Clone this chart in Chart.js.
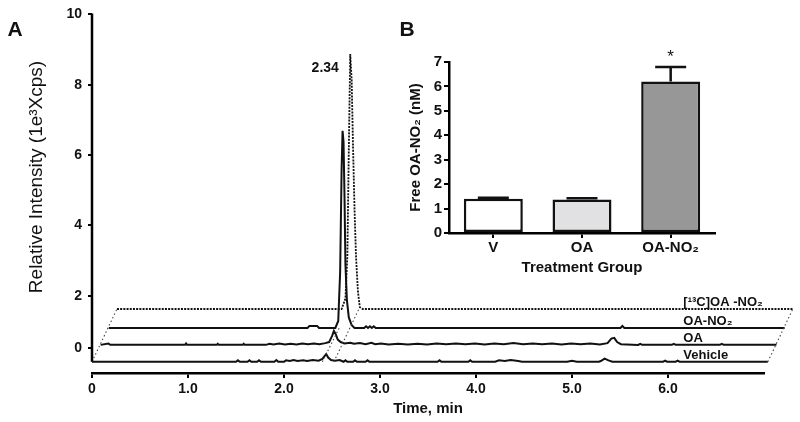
<!DOCTYPE html>
<html>
<head>
<meta charset="utf-8">
<script src="https://cdn.jsdelivr.net/npm/chart.js@4.4.1/dist/chart.umd.min.js"></script>
<style>
  html, body { margin: 0; padding: 0; background: #fff; }
  #wrap { position: relative; width: 800px; height: 422px; }
  #chartA { position: absolute; left: 0; top: 0; }
  #chartB { position: absolute; left: 390px; top: 0; }
</style>
</head>
<body>
<div id="wrap">
  <canvas id="chartA" width="800" height="422"></canvas>
  <canvas id="chartB" width="340" height="290"></canvas>
</div>
<script>
// ---- panel A: chromatograms, [time (min), intensity (1e3 cps) above own baseline]
const traceNames = ['Vehicle', 'OA', 'OA-NO₂', '[¹³C]OA -NO₂'];
const vehicleTrace = [[0,0],[1.50,0],[1.52,0.04],[1.54,0],[1.62,0],[1.64,0.04],[1.66,0],[1.72,0],[1.74,0.04],[1.76,0],
  [1.90,0],[1.92,0.05],[1.94,0],[2.00,0],[2.02,0.04],[2.06,0.02],[2.10,0.05],[2.14,0.02],[2.20,0.04],[2.24,0.02],
  [2.30,0.05],[2.36,0.03],[2.40,0.08],[2.42,0.15],[2.44,0.22],[2.46,0.12],[2.49,0.05],[2.53,0.03],[2.58,0.05],[2.62,0],
  [2.64,0.04],[2.66,0],[2.72,0],[2.74,0.04],[2.76,0],[2.85,0],[2.87,0.04],[2.89,0],[3.60,0],[3.62,0.04],[3.64,0],
  [3.92,0],[3.94,0.04],[3.96,0],[4.20,0],[4.24,0.04],[4.30,0.02],[4.36,0.05],[4.44,0.02],[4.48,0],[4.95,0],[5.00,0.03],
  [5.05,0],[5.28,0],[5.30,0.02],[5.34,0.09],[5.38,0.04],[5.42,0],[5.95,0],[5.97,0.03],[5.99,0],[6.08,0],[6.10,0.03],[6.12,0],[7.04,0]];
const oaTrace = [[0,0],[0.08,0.04],[0.10,0],[0.88,0],[0.89,0.04],[0.90,0],[1.21,0],[1.22,0.03],[1.23,0],[1.48,0],[1.49,0.03],[1.50,0],
  [1.72,0],[1.76,0.03],[1.80,0.01],[1.86,0.04],[1.92,0.01],[1.98,0.03],[2.04,0.01],[2.10,0.04],[2.16,0.02],[2.22,0.04],
  [2.28,0.02],[2.34,0.05],[2.38,0.08],[2.41,0.25],[2.43,0.40],[2.45,0.30],[2.47,0.15],[2.50,0.08],[2.54,0.04],[2.60,0.06],
  [2.64,0.03],[2.70,0.05],[2.76,0.02],[2.82,0.06],[2.86,0.02],[2.92,0.04],[3.00,0.01],[3.10,0.03],[3.20,0.01],[3.30,0.03],
  [3.40,0.01],[3.50,0.04],[3.60,0.02],[3.70,0.04],[3.80,0.02],[3.90,0.04],[4.00,0.01],[4.10,0.04],[4.20,0.02],[4.30,0.05],
  [4.40,0.02],[4.50,0.04],[4.60,0.02],[4.70,0.04],[4.80,0.01],[4.90,0.04],[5.00,0.02],[5.10,0.04],[5.20,0.01],[5.28,0.05],
  [5.32,0.18],[5.35,0.20],[5.38,0.08],[5.42,0.02],[5.60,0],[5.62,0.03],[5.64,0],[5.95,0],[5.97,0.03],[5.99,0],
  [6.45,0],[6.47,0.03],[6.49,0],[7.04,0]];
const oaNo2Trace = [[0,0],[2.07,0],[2.09,0.06],[2.17,0.06],[2.19,0],[2.36,0],[2.39,0.2],[2.41,1.6],[2.425,4.5],[2.435,5.61],
  [2.445,5.3],[2.455,3.8],[2.465,1.8],[2.48,0.8],[2.50,0.3],[2.53,0.08],[2.56,0],[2.66,0],[2.68,0.05],[2.70,0],[2.72,0.05],
  [2.74,0],[2.76,0.05],[2.78,0],[5.33,0],[5.35,0.06],[5.37,0],[7.04,0]];
const c13Trace = [[0,0],[2.34,0],[2.38,0.3],[2.40,1.5],[2.415,4.5],[2.43,7.25],[2.445,6.5],[2.46,4.5],[2.475,2.8],
  [2.49,1.5],[2.51,0.5],[2.53,0.05],[2.56,0],[7.04,0]];
// pseudo-3D stacking of the four traces (time shift, baseline)
const traceShift = [0, 0.09, 0.175, 0.26];
const traceBase = [0.12, 0.6, 1.08, 1.62];
// dotted frame lines: [local time, from trace, to trace]
const guideLines = [[0, 0, 3], [2.40, 0, 2], [2.52, 0, 3], [7.04, 0, 3]];
const peakLabel = '2.34';
const timeTicks = [0, 1, 2, 3, 4, 5, 6];
const timeTickLabels = ['0', '1.0', '2.0', '3.0', '4.0', '5.0', '6.0'];
const intensityTicks = [0.5, 2, 4, 6, 8, 10];
const intensityTickLabels = ['0', '2', '4', '6', '8', '10'];

// ---- panel B: free OA-NO2 by treatment group
const groups = ['V', 'OA', 'OA-NO₂'];
const freeMean = [1.4, 1.37, 6.2];
const freeSem = [0.04, 0.05, 0.6];
const marks = ['', '', '*'];

const FONT = '"Liberation Sans", Arial, sans-serif';
const INK = '#111';

const traces = [vehicleTrace, oaTrace, oaNo2Trace, c13Trace];
const place = (pts, i) => pts.map(([t, v]) => ({ x: t + traceShift[i], y: v + traceBase[i] }));

const datasetsA = [];
guideLines.forEach(([t, a, b]) => {
  datasetsA.push({
    data: [{ x: t + traceShift[a], y: traceBase[a] }, { x: t + traceShift[b], y: traceBase[b] }],
    borderColor: '#444', borderWidth: 1.1, borderDash: [1.5, 2.5]
  });
});
traces.forEach((pts, i) => {
  const dotted = i === 3;
  datasetsA.push({
    label: traceNames[i],
    data: place(pts, i),
    borderColor: INK,
    borderWidth: dotted ? 1.8 : 2,
    borderDash: dotted ? [2, 1.2] : []
  });
});

const decorA = {
  id: 'decorA',
  afterDraw(chart) {
    const { ctx, chartArea, scales: { x, y } } = chart;
    ctx.save();
    // y axis line, stops at the first baseline
    ctx.strokeStyle = '#000';
    ctx.lineWidth = 2.5;
    ctx.beginPath();
    ctx.moveTo(chartArea.left, y.getPixelForValue(10) - 1);
    ctx.lineTo(chartArea.left, y.getPixelForValue(traceBase[0]));
    ctx.stroke();

    ctx.fillStyle = INK;
    // trace names
    ctx.font = 'bold 13px ' + FONT;
    ctx.textAlign = 'left';
    ctx.textBaseline = 'alphabetic';
    traceNames.forEach((n, i) => {
      ctx.fillText(n, x.getPixelForValue(6.16), y.getPixelForValue(traceBase[i]) - 3);
    });
    // retention time label
    ctx.font = 'bold 14px ' + FONT;
    ctx.textAlign = 'center';
    ctx.textBaseline = 'middle';
    const top = c13Trace.reduce((m, p) => (p[1] > m[1] ? p : m));
    ctx.fillText(peakLabel, x.getPixelForValue(top[0] + traceShift[3]) - 25,
      y.getPixelForValue(top[1] + traceBase[3]) + 14);
    // panel letter
    ctx.font = 'bold 21px ' + FONT;
    ctx.fillText('A', 15, 30);
    // y title
    ctx.translate(37, 177);
    ctx.rotate(-Math.PI / 2);
    ctx.font = '19px ' + FONT;
    ctx.fillText('Relative Intensity (1e³Xcps)', 0, 0);
    ctx.restore();
  }
};

new Chart(document.getElementById('chartA'), {
  type: 'line',
  data: { datasets: datasetsA },
  options: {
    responsive: false,
    animation: false,
    events: [],
    layout: { padding: { left: 0, top: 13, right: 36, bottom: 0 } },
    elements: { point: { radius: 0 }, line: { tension: 0 } },
    datasets: { line: { clip: false } },
    plugins: { legend: { display: false }, tooltip: { enabled: false } },
    scales: {
      x: {
        type: 'linear', min: 0, max: 7,
        afterBuildTicks: s => { s.ticks = timeTicks.map(v => ({ value: v })); },
        afterFit: s => { s.height = 49; },
        ticks: {
          callback: (v, i) => timeTickLabels[i],
          font: { family: FONT, size: 14, weight: 'bold' }, color: INK,
          padding: 3, maxRotation: 0, autoSkip: false
        },
        grid: { drawOnChartArea: false, tickLength: 5, color: '#000', lineWidth: 2 },
        border: { display: true, color: '#000', width: 2.5 },
        title: {
          display: true, text: 'Time, min', color: INK,
          font: { family: FONT, size: 15, weight: 'bold' },
          padding: { top: 0, bottom: 4 }
        }
      },
      y: {
        type: 'linear', min: -0.2, max: 10,
        afterBuildTicks: s => { s.ticks = intensityTicks.map(v => ({ value: v })); },
        afterFit: s => { s.width = 92; },
        ticks: {
          callback: (v, i) => intensityTickLabels[i],
          font: { family: FONT, size: 14, weight: 'bold' }, color: INK, padding: 6
        },
        grid: { drawOnChartArea: false, tickLength: 4, color: '#000', lineWidth: 2 },
        border: { display: false }
      }
    }
  },
  plugins: [decorA]
});

const errorBars = {
  id: 'errorBars',
  afterDatasetsDraw(chart) {
    const { ctx, scales: { y } } = chart;
    const bars = chart.getDatasetMeta(0).data;
    ctx.save();
    ctx.strokeStyle = INK;
    ctx.lineWidth = 2.5;
    bars.forEach((bar, i) => {
      const yTop = y.getPixelForValue(freeMean[i] + freeSem[i]);
      ctx.beginPath();
      ctx.moveTo(bar.x, bar.y);
      ctx.lineTo(bar.x, yTop);
      ctx.moveTo(bar.x - 15.5, yTop);
      ctx.lineTo(bar.x + 15.5, yTop);
      ctx.stroke();
      if (marks[i]) {
        ctx.fillStyle = INK;
        ctx.font = '17px ' + FONT;
        ctx.textAlign = 'center';
        ctx.textBaseline = 'middle';
        ctx.fillText(marks[i], bar.x, yTop - 10);
      }
    });
    ctx.fillStyle = INK;
    ctx.font = 'bold 21px ' + FONT;
    ctx.textAlign = 'center';
    ctx.textBaseline = 'middle';
    ctx.fillText('B', 17, 30);
    ctx.restore();
  }
};

new Chart(document.getElementById('chartB'), {
  type: 'bar',
  data: {
    labels: groups,
    datasets: [{
      data: freeMean,
      backgroundColor: ['#ffffff', '#e1e1e3', '#979797'],
      borderColor: INK,
      borderWidth: 2.5,
      borderSkipped: false,
      barPercentage: 0.665,
      categoryPercentage: 1
    }]
  },
  options: {
    responsive: false,
    animation: false,
    events: [],
    layout: { padding: { left: 0, top: 62, right: 15, bottom: 0 } },
    plugins: { legend: { display: false }, tooltip: { enabled: false } },
    scales: {
      x: {
        afterFit: s => { s.height = 57; },
        grid: { offset: false, drawOnChartArea: false, tickLength: 5, color: '#000', lineWidth: 2 },
        border: { color: '#000', width: 2.5 },
        ticks: { font: { family: FONT, size: 15, weight: 'bold' }, color: INK, padding: 1 },
        title: {
          display: true, text: 'Treatment Group', color: INK,
          font: { family: FONT, size: 15, weight: 'bold' },
          padding: { top: 0, bottom: 13 }
        }
      },
      y: {
        min: 0, max: 7,
        afterFit: s => { s.width = 59; },
        ticks: { stepSize: 1, font: { family: FONT, size: 15, weight: 'bold' }, color: INK, padding: 2 },
        grid: { drawOnChartArea: false, tickLength: 5, color: '#000', lineWidth: 2 },
        border: { color: '#000', width: 2.5 },
        title: {
          display: true, text: 'Free OA-NO₂ (nM)', color: INK,
          font: { family: FONT, size: 15, weight: 'bold' },
          padding: { top: 17, bottom: 0 }
        }
      }
    }
  },
  plugins: [errorBars]
});
</script>
</body>
</html>
